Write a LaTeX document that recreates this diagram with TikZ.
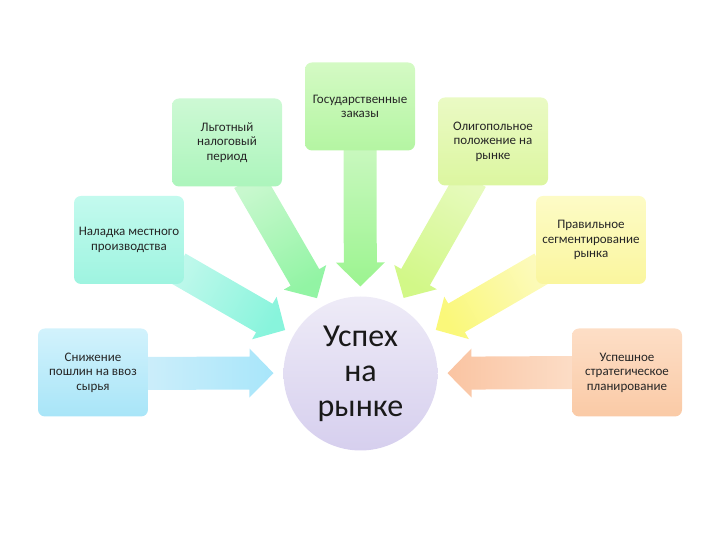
\documentclass[tikz,border=0pt]{standalone}
\usepackage{fontspec}
\setmainfont{Carlito}
\usepackage{tikz}
\usetikzlibrary{calc,backgrounds}
\definecolor{skyTop}{RGB}{210,242,252}
\definecolor{skyBot}{RGB}{168,229,248}
\definecolor{skyPale}{RGB}{205,238,250}
\definecolor{skyDeep}{RGB}{168,230,250}
\definecolor{aquaTop}{RGB}{195,250,238}
\definecolor{aquaBot}{RGB}{158,244,224}
\definecolor{aquaPale}{RGB}{190,248,235}
\definecolor{aquaDeep}{RGB}{136,244,220}
\definecolor{mintTop}{RGB}{205,249,212}
\definecolor{mintBot}{RGB}{172,245,188}
\definecolor{mintPale}{RGB}{200,248,206}
\definecolor{mintDeep}{RGB}{146,244,164}
\definecolor{greenTop}{RGB}{212,250,196}
\definecolor{greenBot}{RGB}{180,245,162}
\definecolor{greenPale}{RGB}{202,248,192}
\definecolor{greenDeep}{RGB}{156,244,144}
\definecolor{limeTop}{RGB}{234,250,196}
\definecolor{limeBot}{RGB}{220,246,160}
\definecolor{limePale}{RGB}{230,250,188}
\definecolor{limeDeep}{RGB}{210,248,136}
\definecolor{lemonTop}{RGB}{253,251,198}
\definecolor{lemonBot}{RGB}{250,246,158}
\definecolor{lemonPale}{RGB}{252,250,188}
\definecolor{lemonDeep}{RGB}{250,248,122}
\definecolor{peachTop}{RGB}{253,222,198}
\definecolor{peachBot}{RGB}{250,202,166}
\definecolor{peachPale}{RGB}{252,222,200}
\definecolor{peachDeep}{RGB}{250,196,162}
\definecolor{lilacTop}{RGB}{238,235,247}
\definecolor{lilacBot}{RGB}{214,207,238}
\tikzset{
  factor/.style 2 args={rounded corners=7pt, minimum width=110pt, minimum height=88pt,
    align=center, inner sep=2pt, font=\fontsize{13}{14.5}\selectfont, text=black!85,
    shade, top color=#1, bottom color=#2},
  goal/.style={circle, minimum size=154pt, align=center, inner sep=0pt,
    font=\fontsize{32}{35}\selectfont, text=black!90,
    shade, top color=lilacTop, bottom color=lilacBot}
}
% broad arrow from a factor box to the centre
\newcommand\flowarrow[3]{%
  \pgfmathanglebetweenpoints{\pgfpointanchor{#1}{center}}{\pgfpointanchor{success}{center}}%
  \edef\arrang{\pgfmathresult}%
  \pgfmathsetmacro\shadang{\arrang-90}%
  \shade[bottom color=#2, top color=#3, shading angle=\shadang]
    let \p1=($(#1.\arrang)+(\arrang+180:8pt)$),
        \p2=($(success)!87pt!(#1)$),
        \p3=($(\p2)+(\arrang+180:24pt)$) in
    ($(\p1)+(\arrang+90:16.5pt)$) -- ($(\p3)+(\arrang+90:16.5pt)$)
    -- ($(\p3)+(\arrang+90:24.5pt)$) -- (\p2)
    -- ($(\p3)+(\arrang-90:24.5pt)$) -- ($(\p3)+(\arrang-90:16.5pt)$)
    -- ($(\p1)+(\arrang-90:16.5pt)$) -- cycle;
}

\begin{document}
\begin{tikzpicture}[x=1pt,y=1pt]
    \useasboundingbox (0,0) rectangle (720,540);
    \node[goal] (success) at (360.5,166.5) {Успех\\на\\рынке};
    \node[factor={skyTop}{skyBot}] (duties) at (93,167.5) {Снижение\\пошлин на ввоз\\сырья};
    \node[factor={aquaTop}{aquaBot}] (local) at (129,300) {Наладка местного\\производства};
    \node[factor={mintTop}{mintBot}] (tax) at (227,397.5) {Льготный\\налоговый\\период};
    \node[factor={greenTop}{greenBot}] (orders) at (360,433.5) {Государственные\\заказы};
    \node[factor={limeTop}{limeBot}] (oligo) at (493,398.5) {Олигопольное\\положение на\\рынке};
    \node[factor={lemonTop}{lemonBot}] (segment) at (591,300) {Правильное\\сегментирование\\рынка};
    \node[factor={peachTop}{peachBot}] (plan) at (627,167.5) {Успешное\\стратегическое\\планирование};
    \begin{scope}[on background layer]
        \flowarrow{duties}{skyPale}{skyDeep}
        \flowarrow{local}{aquaPale}{aquaDeep}
        \flowarrow{tax}{mintPale}{mintDeep}
        \flowarrow{orders}{greenPale}{greenDeep}
        \flowarrow{oligo}{limePale}{limeDeep}
        \flowarrow{segment}{lemonPale}{lemonDeep}
        \flowarrow{plan}{peachPale}{peachDeep}
    \end{scope}
\end{tikzpicture}
\end{document}
